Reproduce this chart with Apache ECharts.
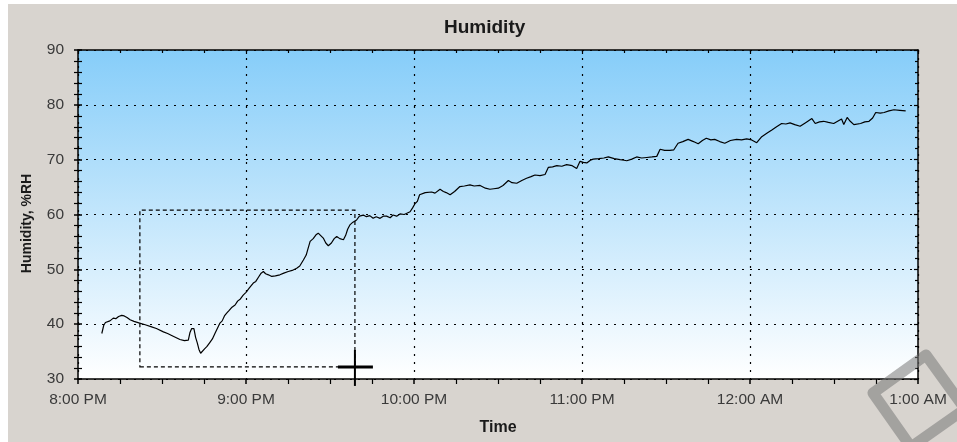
<!DOCTYPE html>
<html>
<head>
<meta charset="utf-8">
<script src="https://cdn.jsdelivr.net/npm/echarts@6/dist/echarts.min.js"></script>
<style>
html,body{margin:0;padding:0;background:#ffffff;}
#chart{width:957px;height:442px;}
</style>
</head>
<body>
<div id="chart"></div>
<script>
// ---- data ----
const tickLabels = ['8:00 PM', '9:00 PM', '10:00 PM', '11:00 PM', '12:00 AM', '1:00 AM'];
// minutes after 8:00 PM
const minutes = [
  8.5, 9.2, 9.8, 10.5, 11.4, 12.0, 12.6, 13.5, 14.5, 15.6, 16.5, 17.5, 18.6, 20, 22, 24, 26.3, 28, 30.5, 32, 34, 36.4, 38, 39.4,
  40.0, 40.6, 41.0, 41.4, 42.0, 42.6, 43.2, 43.8, 44.5, 45.2, 46, 47, 48, 48.9, 49.6, 50.7, 51.5, 52.3, 53.1, 54.0, 55.0, 56.1,
  57.0, 58.0, 59.0, 60.0, 61.2, 62.6, 63.5, 64.5, 65.4, 66.2, 67.0, 68.0, 69.2, 70.5, 72.1, 73.5, 75.1, 76.5, 78.1, 79.2, 80.5,
  81.5, 82.0, 82.9, 84.0, 85.0, 85.8, 86.5, 87.6, 88.5, 89.4, 90.5, 91.5, 92.4, 93.5, 94.8, 95.6, 96.3, 97.1, 98.2, 99.5, 100.5,
  101.9, 103.0, 104.2, 105.4, 106.5, 107.9, 109.0, 110.2, 111.5, 112.5, 113.8, 115, 116.5, 118.6, 119.5, 120.4, 121.2, 122.0,
  122.7, 124, 126.3, 127.5, 129.3, 130.5, 131.5, 132.9, 134.5, 136.4, 138, 140, 141.5, 143.6, 145.5, 147.1, 148.5, 150.1, 151.8,
  153.7, 155, 156.7, 158.5, 160.2, 161.8, 163.2, 165, 166.8, 168, 169.5, 171, 172.8, 174.5, 176.5, 178.1, 179.3, 180.5, 181.7,
  183, 184, 186, 187.8, 189.4, 191.5, 193.6, 195, 196, 197.8, 199.5, 201.3, 203.1, 205, 206.7, 207.9, 209.5, 211.4, 212.8, 214.3,
  216, 217.9, 219.8, 221.5, 223, 224.4, 226, 227.4, 229.2, 231, 233, 235.2, 237, 238.8, 240.6, 242.4, 244.2, 246, 247.8, 249.5,
  251.3, 252.8, 254.3, 256, 257.9, 260, 262.1, 263.3, 264.8, 266.3, 268, 269.9, 271.3, 272.7, 273.5, 274.7, 275.8, 277.1, 279.5,
  281, 282.5, 283.8, 284.9, 286.5, 287.9, 289.6, 291.4, 293.5, 295.6
];
const humidity = [
  38.3, 39.8, 40.3, 40.0, 40.6, 40.4, 41.1, 41.0, 41.4, 41.6, 41.5, 41.2, 40.8, 40.5, 40.2, 39.9, 39.5, 39.2, 38.6, 38.3, 37.8, 37.2, 37.0, 37.1,
  38.5, 39.2, 39.5, 39.2, 37.6, 36.6, 35.4, 34.7, 35.0, 35.5, 35.9, 36.6, 37.3, 38.3, 38.1, 40.2, 40.6, 41.5, 42.0, 42.5, 43.1, 43.5,
  44.2, 44.6, 45.3, 45.8, 46.6, 47.5, 47.8, 48.6, 49.3, 49.6, 49.2, 49.0, 48.7, 48.8, 49.0, 49.3, 49.6, 49.8, 50.2, 50.6, 51.7,
  52.6, 53.5, 55.1, 55.6, 56.3, 56.6, 56.4, 55.7, 54.8, 54.3, 54.8, 55.6, 56.0, 55.6, 55.4, 56.2, 57.3, 58.1, 58.6, 59.0, 59.7,
  59.9, 59.6, 59.8, 59.3, 59.6, 59.3, 59.7, 59.7, 59.4, 59.9, 59.7, 60.1, 60.0, 60.5, 61.2, 62.0, 62.4, 63.6,
  63.9, 64.0, 64.1, 63.9, 64.6, 64.2, 64.0, 63.6, 64.2, 65.1, 65.2, 65.4, 65.2, 65.3, 64.8, 64.6, 64.7, 64.8, 65.3,
  66.2, 65.8, 65.7, 66.2, 66.6, 66.9, 67.2, 67.1, 67.3, 68.6, 68.7, 68.9, 68.8, 69.1, 68.9, 68.4, 69.7, 69.5, 69.4,
  69.9, 70.1, 70.2, 70.3, 70.5, 70.2, 70.0, 69.9, 69.8, 70.1, 70.5, 70.3, 70.4, 70.5, 70.6, 71.9, 71.7, 71.7, 71.8, 73.0,
  73.3, 73.7, 73.3, 72.9, 73.5, 73.9, 73.6, 73.7, 73.3, 73.0, 73.5, 73.7, 73.6, 73.8, 73.6, 73.1, 74.2, 74.8, 75.4, 76.0,
  76.6, 76.5, 76.7, 76.4, 76.1, 76.8, 77.5, 76.6, 76.9, 77.0, 76.8, 76.6, 77.0, 77.4, 76.4, 77.7, 77.0, 76.4, 76.6,
  76.9, 77.0, 77.6, 78.6, 78.5, 78.6, 78.9, 79.1, 79.0, 78.9
];
// dashed zoom selection box (data coordinates: [minutes, %RH])
const selectionStart = [22.1, 32.2];
const selectionEnd = [98.9, 60.8];

const series = minutes.map((m, i) => [m, humidity[i]]);

const chart = echarts.init(document.getElementById('chart'), null, {renderer: 'canvas'});
const FONT = 'Liberation Sans, Arial, sans-serif';
const gridDots = {show: true, lineStyle: {color: '#000', width: 1.2, type: [2, 6]}};

const option = {
  animation: false,
  backgroundColor: '#ffffff',
  title: {
    text: 'Humidity',
    left: 439, top: 13,
    textStyle: {fontFamily: FONT, fontSize: 19, fontWeight: 'bold', color: '#1a1a1a'}
  },
  grid: {
    left: 78, right: 39, top: 50, bottom: 63,
    show: true, borderWidth: 0,
    backgroundColor: {type: 'linear', x: 0, y: 0, x2: 0, y2: 1,
      colorStops: [{offset: 0, color: '#86cdf9'}, {offset: 1, color: '#ffffff'}]}
  },
  xAxis: [
    {
      type: 'value', min: 0, max: 300, interval: 60, position: 'bottom',
      name: 'Time', nameLocation: 'middle', nameGap: 41,
      nameTextStyle: {fontFamily: FONT, fontSize: 16, fontWeight: 'bold', color: '#1a1a1a'},
      axisLine: {lineStyle: {color: '#000', width: 1.5}},
      axisTick: {length: 5, lineStyle: {color: '#000', width: 1.5}},
      minorTick: {show: true, splitNumber: 4, length: 5, lineStyle: {color: '#000', width: 1.2}},
      axisLabel: {fontFamily: FONT, fontSize: 15.5, color: '#3a3a3a', margin: 13,
        formatter: v => tickLabels[Math.round(v / 60)]},
      splitLine: gridDots
    },
    {
      type: 'value', min: 0, max: 300, interval: 60, position: 'top',
      axisLine: {lineStyle: {color: '#000', width: 1.5}},
      axisTick: {inside: true, length: 4, lineStyle: {color: '#000', width: 1.2}},
      minorTick: {show: true, splitNumber: 4, length: 3, lineStyle: {color: '#000', width: 1.2}},
      axisLabel: {show: false}, splitLine: {show: false}
    }
  ],
  yAxis: [
    {
      type: 'value', min: 30, max: 90, interval: 10, position: 'left',
      name: 'Humidity, %RH', nameLocation: 'middle', nameGap: 44, nameRotate: 90,
      nameTextStyle: {fontFamily: FONT, fontSize: 14, fontWeight: 'bold', color: '#1a1a1a', padding: [0, 18, 0, 0]},
      axisLine: {lineStyle: {color: '#000', width: 1.5}},
      axisTick: {length: 4, lineStyle: {color: '#000', width: 1.5}},
      minorTick: {show: true, splitNumber: 5, length: 4, lineStyle: {color: '#000', width: 1.2}},
      axisLabel: {fontFamily: FONT, fontSize: 15.5, color: '#3a3a3a', margin: 14},
      splitLine: gridDots
    },
    {
      type: 'value', min: 30, max: 90, interval: 10, position: 'left', offset: 0,
      axisLine: {show: false},
      axisTick: {inside: true, length: 4, lineStyle: {color: '#000', width: 1.5}},
      minorTick: {show: true, splitNumber: 5, length: 4, lineStyle: {color: '#000', width: 1.2}},
      axisLabel: {show: false}, splitLine: {show: false}
    },
    {
      type: 'value', min: 30, max: 90, interval: 10, position: 'right',
      axisLine: {lineStyle: {color: '#000', width: 1.5}},
      axisTick: {inside: true, length: 4, lineStyle: {color: '#000', width: 1.2}},
      minorTick: {show: true, splitNumber: 5, length: 3, lineStyle: {color: '#000', width: 1.2}},
      axisLabel: {show: false}, splitLine: {show: false}
    }
  ],
  series: [{
    type: 'line', xAxisIndex: 0, yAxisIndex: 0,
    data: series, showSymbol: false, symbol: 'none',
    lineStyle: {color: '#000', width: 1.2},
    z: 5,
    markArea: {
      silent: true,
      itemStyle: {color: 'rgba(0,0,0,0)', borderColor: '#000', borderWidth: 1.2, borderType: [4, 3]},
      data: [[{coord: selectionStart}, {coord: selectionEnd}]]
    }
  }]
};
chart.setOption(option);

// mouse crosshair cursor at the selection-box corner, and faint watermark
const corner = chart.convertToPixel({xAxisIndex: 0, yAxisIndex: 0}, [selectionEnd[0], selectionStart[1]]);
chart.setOption({
  graphic: [
    {type: 'rect', shape: {x: 0, y: 0, width: 957, height: 442}, style: {fill: '#ffffff'}, z: -10, silent: true},
    {type: 'rect', shape: {x: 8, y: 4, width: 949, height: 438}, style: {fill: '#d8d4cf'}, z: -9, silent: true},
    {type: 'line', shape: {x1: corner[0] - 17, y1: corner[1], x2: corner[0] + 18, y2: corner[1]},
      style: {stroke: '#000', lineWidth: 3}, z: 50, silent: true},
    {type: 'line', shape: {x1: corner[0], y1: corner[1] - 17, x2: corner[0], y2: corner[1] + 19},
      style: {stroke: '#000', lineWidth: 2}, z: 50, silent: true},
    {type: 'polygon', shape: {points: [[873, 393], [926, 355], [965, 409], [911, 447]]},
      style: {fill: 'none', stroke: 'rgba(120,120,120,0.55)', lineWidth: 11, lineJoin: 'round'}, z: 1, silent: true}
  ]
});
</script>
</body>
</html>
